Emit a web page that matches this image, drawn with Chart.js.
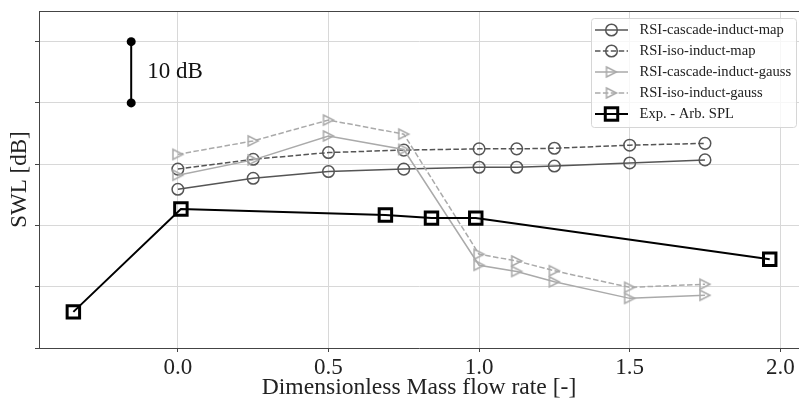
<!DOCTYPE html>
<html>
<head>
<meta charset="utf-8">
<script src="https://cdn.jsdelivr.net/npm/chart.js@4.4.1/dist/chart.umd.min.js"></script>
<style>
  html, body { margin: 0; padding: 0; background: #fff; }
  #wrap { width: 799px; height: 403px; }
</style>
</head>
<body>
<div id="wrap"><canvas id="swlChart" width="799" height="403"></canvas></div>
<script>
// Mass flow rate points of the simulations
const flowSim = [0, 0.25, 0.5, 0.75, 1.0, 1.125, 1.25, 1.5, 1.75];

// SWL [dB], arbitrary offset
const cascadeMap   = [25.9, 27.7, 28.8, 29.2, 29.5, 29.5, 29.7, 30.2, 30.7];
const isoMap       = [29.2, 30.8, 31.9, 32.3, 32.5, 32.5, 32.6, 33.1, 33.4];
const cascadeGauss = [28.2, 30.7, 34.6, 32.4, 13.5, 12.5, 10.8, 8.1, 8.6];
const isoGauss     = [31.6, 33.8, 37.2, 34.9, 15.3, 14.2, 12.6, 9.9, 10.4];

// Experiment
const flowExp = [-0.347, 0.01, 0.689, 0.842, 0.989, 1.965];
const expSPL  = [5.9, 22.7, 21.7, 21.2, 21.2, 14.5];

// 10 dB scale bar
const barX = [-0.155, -0.155];
const barY = [40, 50];

const xTicks = [0, 0.5, 1.0, 1.5, 2.0];
const yTicks = [0, 10, 20, 30, 40, 50];

const darkGrey = '#555555';
const lightGrey = '#aaaaaa';
const serif = '"Liberation Serif", "DejaVu Serif", serif';

// right-pointing triangle marker, like matplotlib '>'
function makeTriangle(color){
    const c = document.createElement('canvas');
    c.width = 14; c.height = 14;
    const g = c.getContext('2d');
    g.strokeStyle = color;
    g.lineWidth = 1.5;
    g.beginPath();
    g.moveTo(2, 2);
    g.lineTo(12, 7);
    g.lineTo(2, 12);
    g.closePath();
    g.stroke();
    return c;
}
const triMarker = makeTriangle(lightGrey);

function pts(xs, ys){
    return xs.map((x, i) => ({x: x, y: ys[i]}));
}

const datasets = [
    {
        label: 'RSI-cascade-induct-map',
        data: pts(flowSim, cascadeMap),
        borderColor: darkGrey, borderWidth: 1.5,
        pointStyle: 'circle', pointRadius: 5.8, pointBorderWidth: 1.5,
        pointBorderColor: darkGrey, pointBackgroundColor: 'rgba(0,0,0,0)',
        order: 4
    },
    {
        label: 'RSI-iso-induct-map',
        data: pts(flowSim, isoMap),
        borderColor: darkGrey, borderWidth: 1.5, borderDash: [5.5, 2.4],
        pointStyle: 'circle', pointRadius: 5.8, pointBorderWidth: 1.5,
        pointBorderColor: darkGrey, pointBackgroundColor: 'rgba(0,0,0,0)',
        order: 3
    },
    {
        label: 'RSI-cascade-induct-gauss',
        data: pts(flowSim, cascadeGauss),
        borderColor: lightGrey, borderWidth: 1.5,
        pointStyle: triMarker, pointRadius: 6,
        order: 2
    },
    {
        label: 'RSI-iso-induct-gauss',
        data: pts(flowSim, isoGauss),
        borderColor: lightGrey, borderWidth: 1.5, borderDash: [5.5, 2.4],
        pointStyle: triMarker, pointRadius: 6,
        order: 1
    },
    {
        label: 'Exp. - Arb. SPL',
        data: pts(flowExp, expSPL),
        borderColor: '#000', borderWidth: 2,
        pointStyle: 'rect', pointRadius: 8.8, pointBorderWidth: 3,
        pointBorderColor: '#000', pointBackgroundColor: 'rgba(0,0,0,0)',
        order: 0
    },
    {
        label: 'scalebar',
        data: pts(barX, barY),
        borderColor: '#000', borderWidth: 2,
        pointStyle: 'circle', pointRadius: 4.5, pointBorderWidth: 0,
        pointBackgroundColor: '#000',
        order: 0
    }
];

// frame, scale bar text and matplotlib-like legend
const decorations = {
    id: 'decorations',
    afterDraw(chart){
        const ctx = chart.ctx;
        const a = chart.chartArea;
        const xs = chart.scales.x, ys = chart.scales.y;
        ctx.save();
        // top spine
        ctx.strokeStyle = '#444';
        ctx.lineWidth = 1;
        ctx.beginPath();
        ctx.moveTo(a.left, a.top + 0.5);
        ctx.lineTo(a.right, a.top + 0.5);
        ctx.stroke();

        // "10 dB"
        ctx.fillStyle = '#111';
        ctx.font = '23px ' + serif;
        ctx.textBaseline = 'middle';
        ctx.textAlign = 'left';
        ctx.fillText('10 dB', xs.getPixelForValue(barX[0]) + 16, ys.getPixelForValue((barY[0] + barY[1]) / 2));

        // legend box
        const bx = 591.5, by = 18.5, bw = 205, bh = 109;
        ctx.fillStyle = 'rgba(255,255,255,0.8)';
        ctx.strokeStyle = '#d6d6d6';
        ctx.lineWidth = 1;
        ctx.beginPath();
        ctx.roundRect(bx, by, bw, bh, 3);
        ctx.fill();
        ctx.stroke();

        ctx.font = '14.6px ' + serif;
        ctx.textBaseline = 'middle';
        for (let i = 0; i < 5; i++){
            const ds = datasets[i];
            const cy = 30 + i * 21;
            const x0 = 595, x1 = 628, cx = 611.5;
            ctx.strokeStyle = ds.borderColor;
            ctx.lineWidth = ds.borderWidth;
            ctx.setLineDash(ds.borderDash || []);
            ctx.beginPath();
            ctx.moveTo(x0, cy);
            ctx.lineTo(x1, cy);
            ctx.stroke();
            ctx.setLineDash([]);
            if (ds.pointStyle === 'circle'){
                ctx.lineWidth = ds.pointBorderWidth;
                ctx.strokeStyle = ds.pointBorderColor;
                ctx.beginPath();
                ctx.arc(cx, cy, ds.pointRadius, 0, Math.PI * 2);
                ctx.stroke();
            } else if (ds.pointStyle === 'rect'){
                const s = Math.SQRT1_2 * ds.pointRadius;
                ctx.lineWidth = ds.pointBorderWidth;
                ctx.strokeStyle = ds.pointBorderColor;
                ctx.strokeRect(cx - s, cy - s, 2 * s, 2 * s);
            } else {
                ctx.drawImage(ds.pointStyle, cx - 7, cy - 7);
            }
            ctx.fillStyle = '#222';
            ctx.fillText(ds.label, 639.5, cy + 0.5);
        }
        ctx.restore();
    }
};

const ctx = document.getElementById('swlChart').getContext('2d');
new Chart(ctx, {
    type: 'line',
    data: { datasets: datasets },
    options: {
        responsive: false,
        animation: false,
        devicePixelRatio: 1,
        layout: { autoPadding: false, padding: { top: 11, right: 0, left: 0, bottom: 0 } },
        plugins: { legend: { display: false }, tooltip: { enabled: false } },
        scales: {
            x: {
                type: 'linear',
                min: -0.4611, max: 2.0622,
                afterBuildTicks: s => { s.ticks = xTicks.map(v => ({value: v})); },
                afterFit: s => { s.height = 55; s.paddingLeft = 0; s.paddingRight = 0; },
                grid: { color: '#d8d8d8', lineWidth: 1, tickLength: 4, tickColor: '#444' },
                border: { color: '#444', width: 1 },
                ticks: {
                    color: '#222', padding: 2,
                    font: { family: serif, size: 23 },
                    callback: v => Number(v).toFixed(1),
                    maxRotation: 0
                },
                title: {
                    display: true, text: 'Dimensionless Mass flow rate [-]',
                    color: '#222', font: { family: serif, size: 23.6 },
                    padding: { top: 0, bottom: 1 }
                }
            },
            y: {
                type: 'linear',
                min: 0, max: 55,
                afterBuildTicks: s => { s.ticks = yTicks.map(v => ({value: v})); },
                afterFit: s => { s.width = 39; s.paddingTop = 0; s.paddingBottom = 0; },
                grid: { color: '#d8d8d8', lineWidth: 1, tickLength: 4, tickColor: '#444' },
                border: { color: '#444', width: 1 },
                ticks: { callback: () => '', padding: 0 },
                title: {
                    display: true, text: 'SWL [dB]',
                    color: '#222', font: { family: serif, size: 23 },
                    padding: { top: 6, bottom: 0 }
                }
            }
        }
    },
    plugins: [decorations]
});
</script>
</body>
</html>
